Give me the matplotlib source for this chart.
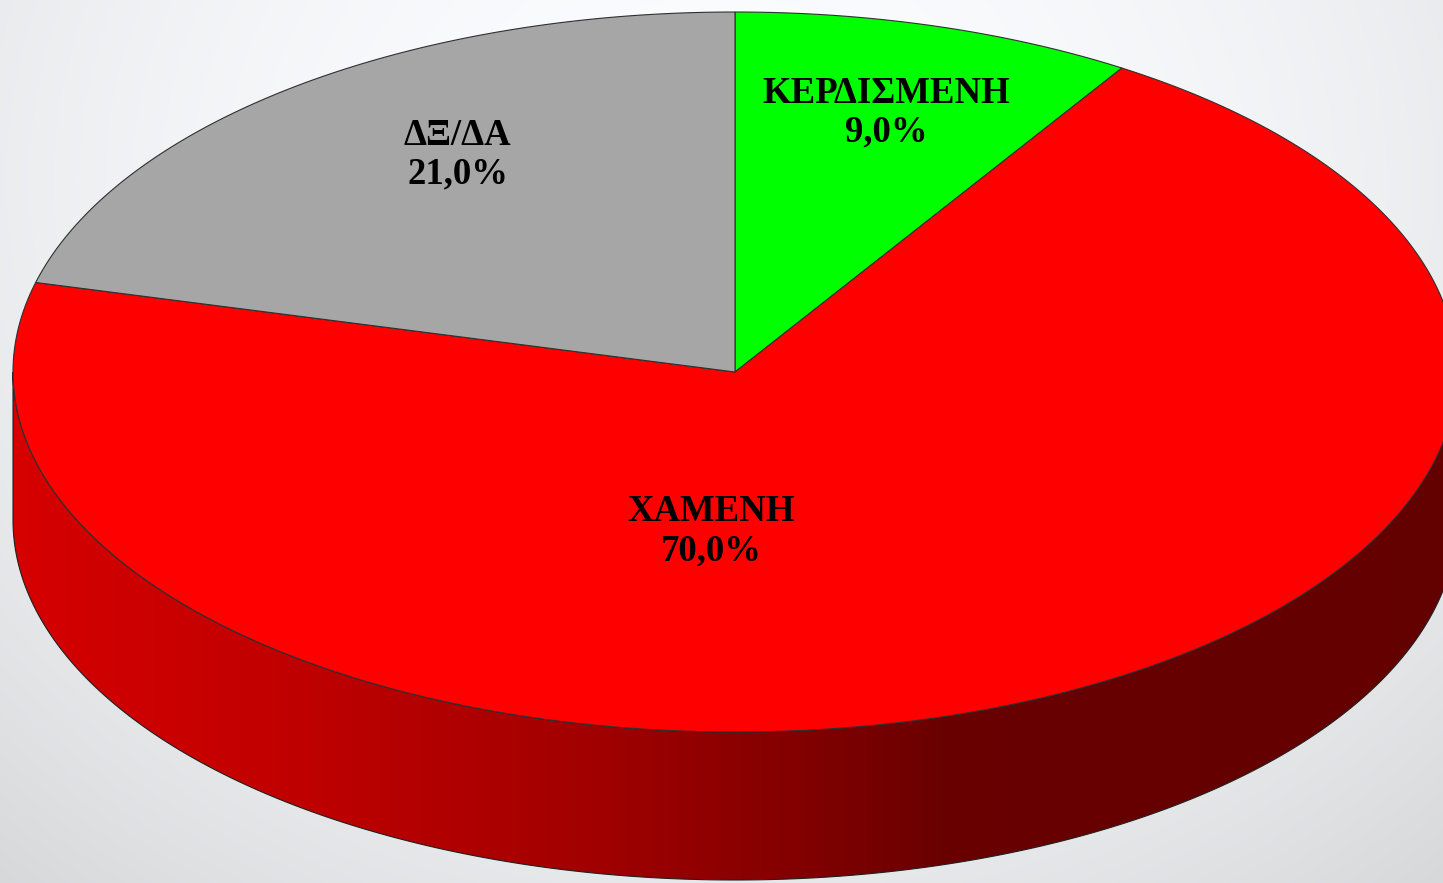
import numpy as np
import matplotlib.pyplot as plt
from matplotlib.patches import Polygon

# data
labels = ["ΚΕΡΔΙΣΜΕΝΗ", "ΧΑΜΕΝΗ", "ΔΞ/ΔΑ"]
values = [9.0, 70.0, 21.0]
colors = ["#00ff00", "#ff0000", "#a6a6a6"]

# layout of the 3d pie (pixels)
W, H = 1443, 883
cx, cy = 735, 372
a, b = 722, 360
depth = 148
# label anchors, as fractions of the ellipse radii
label_offsets = [(0.21, 0.72), (-0.033, -0.442), (-0.384, 0.603)]


def ell(t):
    t = np.radians(t)
    return cx + a * np.cos(t), cy - b * np.sin(t)


def side_shade(x):
    # darkening factor across the side wall, left -> right
    xs = [13, 300, 600, 800, 950, 1443]
    fs = [0.84, 0.75, 0.63, 0.51, 0.41, 0.39]
    return np.interp(x, xs, fs)


fig = plt.figure(figsize=(W / 100, H / 100), dpi=100)
ax = fig.add_axes([0, 0, 1, 1])
ax.set_xlim(0, W)
ax.set_ylim(H, 0)
ax.axis("off")

# background: soft radial gradient, lighter at the top
yy, xx = np.mgrid[0:H, 0:W]
r = np.sqrt(((xx - 720) / 1000.0) ** 2 + ((yy - 180) / 850.0) ** 2)
g = 1.0 - 0.12 * np.clip(r, 0, 1.4) ** 2
bg = np.dstack([g * 0.985, g * 0.99, g])
ax.imshow(np.clip(bg, 0, 1), extent=(0, W, H, 0), zorder=0, aspect="auto")

# slice angles, clockwise from 12 o'clock
total = sum(values)
starts = []
ang = 90.0
for v in values:
    starts.append((ang, ang - v / total * 360.0))
    ang -= v / total * 360.0

# side walls (only the front half is visible)
cols = np.arange(W)
for (t1, t2), c in zip(starts, colors):
    rgb = np.array(plt.matplotlib.colors.to_rgb(c))
    for k in (-360, 0, 360):
        lo = max(t2, -180 + k)
        hi = min(t1, 0 + k)
        if lo >= hi:
            continue
        ts = np.linspace(lo, hi, 300)
        x, y = ell(ts)
        pts = np.concatenate([np.column_stack([x, y]),
                              np.column_stack([x[::-1], y[::-1] + depth])])
        poly = Polygon(pts, closed=True, facecolor="none",
                       edgecolor="#202020", lw=0.8, zorder=3)
        ax.add_patch(poly)
        grad = side_shade(cols)[None, :, None] * rgb[None, None, :]
        im = ax.imshow(grad, extent=(0, W, H, 0), aspect="auto", zorder=2)
        im.set_clip_path(poly)

# top face
for (t1, t2), c in zip(starts, colors):
    ts = np.linspace(t1, t2, 400)
    x, y = ell(ts)
    pts = np.vstack([[cx, cy], np.column_stack([x, y])])
    ax.add_patch(Polygon(pts, closed=True, facecolor=c,
                         edgecolor="#303030", lw=0.8, zorder=4))

# labels
for lab, v, (u, w) in zip(labels, values, label_offsets):
    txt = lab + "\n" + f"{v:.1f}".replace(".", ",") + "%"
    ax.text(cx + u * a, cy - w * b, txt, ha="center", va="center",
            fontsize=26.5, fontweight="bold", family="Liberation Serif",
            linespacing=1.15, zorder=5)

fig.savefig("out.png", dpi=100)
